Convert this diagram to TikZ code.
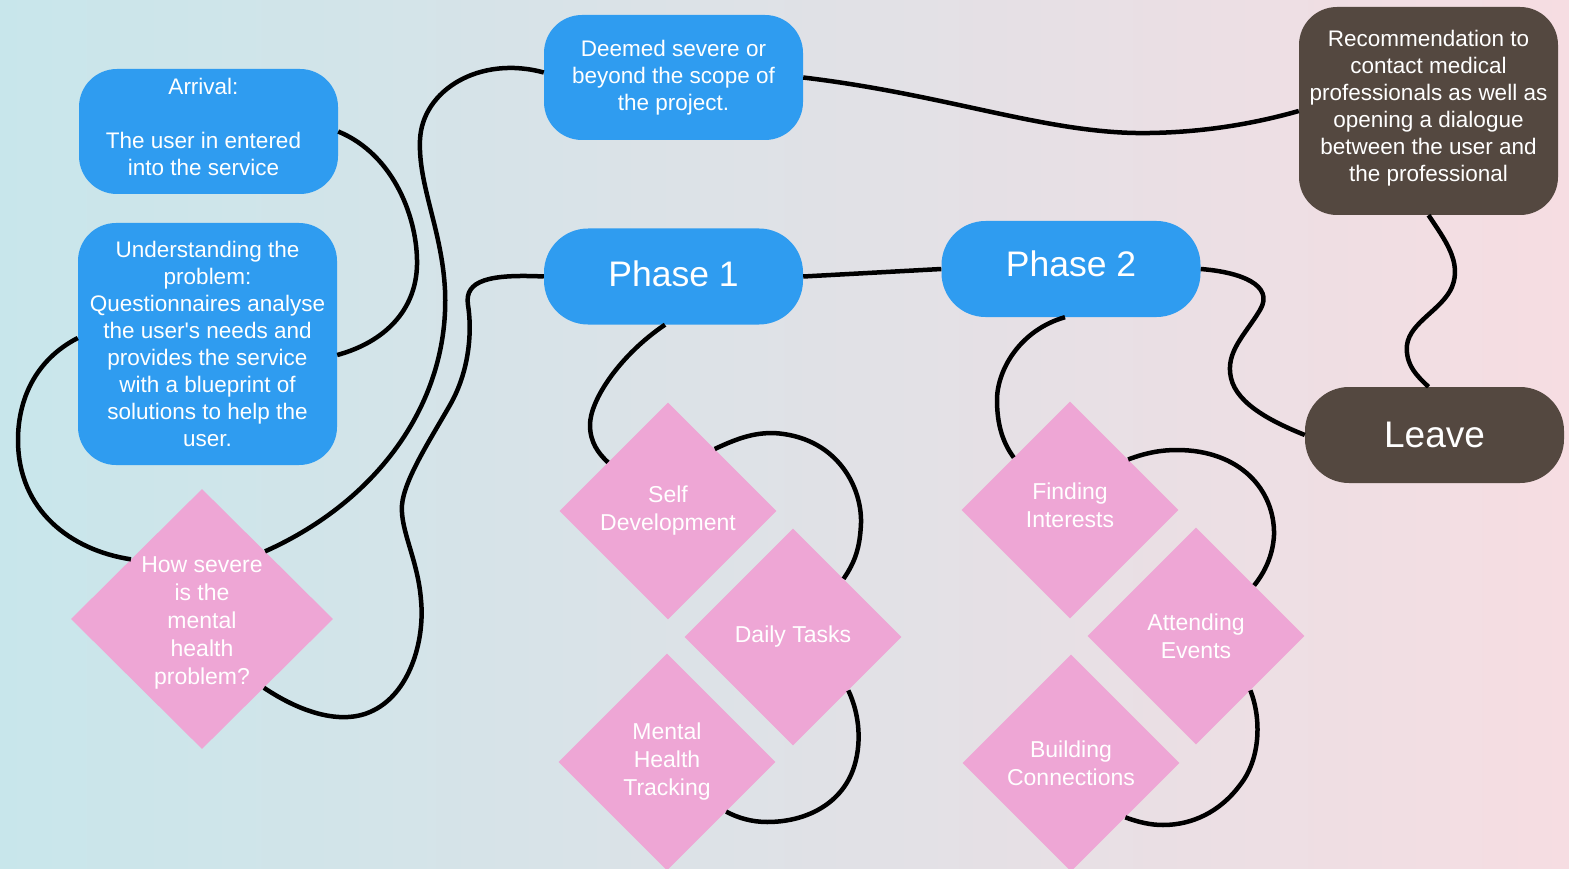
\documentclass[tikz,border=0pt]{standalone}
\usepackage{fontspec}
\setmainfont{Liberation Sans}
\usetikzlibrary{shapes.geometric}
\definecolor{bgL}{RGB}{200,230,235}
\definecolor{bgR}{RGB}{246,221,226}
\definecolor{boxblue}{RGB}{47,156,240}
\definecolor{dpink}{RGB}{238,166,213}
\definecolor{dbrown}{RGB}{84,72,64}
\tikzset{
  box/.style={fill=boxblue, rounded corners=38pt, text=white, align=center, inner sep=0pt,
    minimum width=259pt, font=\fontsize{22.5}{27}\selectfont},
  brownbox/.style={box, fill=dbrown},
  phasebox/.style={box, rounded corners=44pt, minimum height=96pt, font=\fontsize{35.5}{42}\selectfont},
  dia/.style={diamond, shape aspect=1, fill=dpink, text=white, align=center, inner sep=0pt,
    minimum width=217pt, minimum height=217pt, font=\fontsize{23}{28}\selectfont},
  lbl/.style={text=white, align=center, inner sep=0pt, font=\fontsize{22.5}{27}\selectfont},
  dlbl/.style={lbl, font=\fontsize{23}{28}\selectfont},
  plbl/.style={lbl, font=\fontsize{35.5}{42}\selectfont},
  conn/.style={draw=black, line width=4.5pt}
}
\begin{document}
\begin{tikzpicture}[x=1pt,y=-1pt]
\shade[left color=bgL, right color=bgR] (0,0) rectangle (1569,869);
\useasboundingbox (0,0) rectangle (1569,869);

% nodes
\node[box, minimum height=125pt] (arr) at (208.5,131.5) {};
\node[lbl] (arrtxt) at ([shift={(-5pt,4.5pt)}]arr.center) {Arrival:\\[27pt]The user in entered\\into the service};
\node[box, minimum height=242pt] (und) at (207.5,344) {Understanding the\\problem:\\Questionnaires analyse\\the user\textquotesingle s needs and\\provides the service\\with a blueprint of\\solutions to help the\\user.};
\node[dia, minimum width=262pt, minimum height=260pt] (dia1) at (202,619) {};
\node[dlbl] (dia1txt) at ([yshift=-4pt]dia1.center) {How severe\\is the\\mental\\health\\problem?};
\node[box, minimum height=125pt] (deem) at (673.5,77.5) {Deemed severe or\\beyond the scope of\\the project.};
\node[brownbox, minimum height=208pt] (rec) at (1428.5,111) {};
\node[lbl] (rectxt) at ([yshift=3pt]rec.center) {Recommendation to\\contact medical\\professionals as well as\\opening a dialogue\\between the user and\\the professional};
\node[phasebox] (ph1) at (673.5,276.5) {};
\node[plbl] (ph1txt) at ([yshift=3pt]ph1.center) {Phase 1};
\node[phasebox] (ph2) at (1071,269) {};
\node[plbl] (ph2txt) at ([yshift=5pt]ph2.center) {Phase 2};
\node[phasebox, fill=dbrown, font=\fontsize{37}{44}\selectfont] (leave) at (1434.5,435) {Leave};

\node[dia] (sd) at (668,511) {Self\\Development};
\node[dia] (dt) at (793,637) {Daily Tasks};
\node[dia] (mh) at (667,762) {Mental\\Health\\Tracking};
\node[dia] (fi) at (1070,510) {};
\node[dlbl] (fitxt) at ([yshift=5pt]fi.center) {Finding\\Interests};
\node[dia] (ae) at (1196,636) {Attending\\Events};
\node[dia] (bc) at (1071,763) {Building\\Connections};

% connectors
\draw[conn] (arr.east) .. controls (395,155) and (418,220) .. (417,265)
  .. controls (416,310) and (385,342) .. ([yshift=-11pt]und.east);
\draw[conn] ([yshift=6pt]und.west) .. controls (35,360) and (18,400) .. (18,440)
  .. controls (18,510) and (70,550) .. (dia1.140);
\draw[conn] (dia1.47) .. controls (380,500) and (450,400) .. (445,290)
  .. controls (442,230) and (418,185) .. (420,140)
  .. controls (422,90) and (480,55) .. ([yshift=5pt]deem.west);
\draw[conn] (dia1.-48) .. controls (300,712) and (340,725) .. (370,712)
  .. controls (410,695) and (425,640) .. (421,600)
  .. controls (418,560) and (400,530) .. (402,505)
  .. controls (404,480) and (430,440) .. (450,405)
  .. controls (470,370) and (472,330) .. (468,305)
  .. controls (464,280) and (490,274) .. (ph1.west);
\draw[conn] (deem.east) .. controls (950,95) and (1050,135) .. (1150,133)
  .. controls (1210,132) and (1260,122) .. (rec.west);
\draw[conn] (ph1.east) -- (ph2.west);
\draw[conn] ([xshift=-8.5pt]ph1.south) .. controls (620,355) and (590,400) .. (590,425)
  .. controls (590,442) and (598,453) .. (sd.141);
\draw[conn] (sd.53) .. controls (740,437) and (755,433) .. (773,433)
  .. controls (835,436) and (862,485) .. (861,523)
  .. controls (860,548) and (855,562) .. (dt.49);
\draw[conn] (dt.-44) .. controls (860,715) and (862,745) .. (853,770)
  .. controls (840,805) and (805,822) .. (767,822)
  .. controls (752,822) and (738,818) .. (mh.-40);
\draw[conn] ([xshift=-6pt]ph2.south) .. controls (1020,330) and (997,370) .. (997,400)
  .. controls (997,425) and (1003,443) .. (fi.137);
\draw[conn] (fi.41) .. controls (1148,452) and (1163,450) .. (1177,450)
  .. controls (1240,450) and (1275,490) .. (1274,535)
  .. controls (1273,555) and (1265,572) .. (ae.41);
\draw[conn] (ae.-45) .. controls (1262,720) and (1260,760) .. (1240,785)
  .. controls (1220,812) and (1192,825) .. (1163,825)
  .. controls (1150,825) and (1138,822) .. (bc.-45);
\draw[conn] (ph2.east) .. controls (1240,272) and (1275,285) .. (1260,310)
  .. controls (1245,335) and (1225,352) .. (1231,378)
  .. controls (1237,405) and (1275,423) .. (leave.west);
\draw[conn] (rec.south) .. controls (1445,240) and (1462,262) .. (1452,287)
  .. controls (1442,310) and (1410,322) .. (1407,345)
  .. controls (1405,365) and (1418,377) .. ([xshift=-6pt]leave.north);
\end{tikzpicture}
\end{document}
